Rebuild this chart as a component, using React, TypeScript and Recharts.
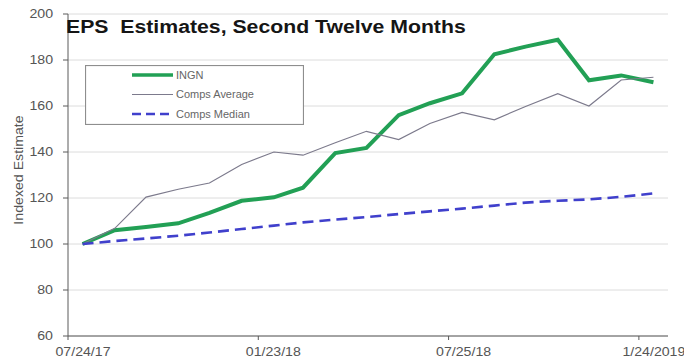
import React from 'react';
import { LineChart, Line, XAxis, YAxis, CartesianGrid, Legend } from 'recharts';

// Monthly estimate snapshots
const snapshotDates = [
  '2017-08-07', '2017-09-07', '2017-10-07', '2017-11-07', '2017-12-07',
  '2018-01-07', '2018-02-07', '2018-03-07', '2018-04-07', '2018-05-07',
  '2018-06-07', '2018-07-07', '2018-08-07', '2018-09-07', '2018-10-07',
  '2018-11-07', '2018-12-07', '2019-01-07', '2019-02-07',
];

const ingn = [
  100, 106, 107.4, 109, 113.5, 118.8, 120.3, 124.5, 139.5, 141.8,
  156, 161.2, 165.5, 182.5, 185.8, 188.8, 171.2, 173.3, 170.3,
];

const compsAverage = [
  100, 106.8, 120.4, 123.8, 126.5, 134.6, 140, 138.6, 144, 149,
  145.4, 152.4, 157.2, 154, 159.8, 165.4, 160, 171.3, 172.5,
];

const compsMedian = [
  100, 101.3, 102.4, 103.6, 105, 106.5, 108, 109.4, 110.6, 111.7,
  113, 114.2, 115.4, 116.7, 118, 118.8, 119.4, 120.5, 122,
];

const axisStartDate = '2017-07-24';
const axisEndDate = '2019-02-21';
const tickDates = ['2017-07-24', '2018-01-23', '2018-07-25', '2019-01-24'];
const tickLabels = ['07/24/17', '01/23/18', '07/25/18', '1/24/2019'];
const yTicks = [60, 80, 100, 120, 140, 160, 180, 200];

const seriesNames = ['INGN', 'Comps Average', 'Comps Median'];

const DAY = 24 * 3600 * 1000;
const dayOf = (d: string) => Math.round((Date.parse(d) - Date.parse(axisStartDate)) / DAY);

const rows = snapshotDates.map((d, i) => ({
  day: dayOf(d),
  ingn: ingn[i],
  avg: compsAverage[i],
  median: compsMedian[i],
}));

const tickDays = tickDates.map(dayOf);
const tickLabelByDay: Record<number, string> = {};
tickDays.forEach((d, i) => {
  tickLabelByDay[d] = tickLabels[i];
});

const FONT = '"Liberation Sans", Arial, sans-serif';
const GREEN = '#22a055';
const GREY = '#7c7a8c';
const BLUE = '#4040cc';
const TEXT = '#555555';
const STRETCH = 1.18;

const seriesStyles = [
  { key: 'ingn', color: GREEN, width: 4, dash: undefined as string | undefined },
  { key: 'avg', color: GREY, width: 1.2, dash: undefined as string | undefined },
  { key: 'median', color: BLUE, width: 2.6, dash: '11 6' },
];

const YTick = (props: any) => {
  const { x, y, payload } = props;
  return (
    <g transform={`translate(${x},${y}) scale(${STRETCH},1)`}>
      <text x={0} y={0} dy={4} textAnchor="end" fontSize={12} fontFamily={FONT} fill={TEXT}>
        {payload.value}
      </text>
    </g>
  );
};

const XTick = (props: any) => {
  const { x, y, payload } = props;
  return (
    <g transform={`translate(${x + 15},${y}) scale(${STRETCH},1)`}>
      <text x={0} y={0} dy={14} textAnchor="middle" fontSize={12} fontFamily={FONT} fill={TEXT}>
        {tickLabelByDay[payload.value] ?? ''}
      </text>
    </g>
  );
};

const renderLegend = () => (
  <svg width={219} height={60} style={{ display: 'block' }}>
    <rect x={0.5} y={0.5} width={218} height={59} fill="#ffffff" stroke="#8e8e8e" strokeWidth={1.2} />
    {seriesNames.map((name, i) => {
      const s = seriesStyles[i];
      const cy = 10 + i * 19.5;
      return (
        <g key={name}>
          <line
            x1={47}
            x2={88}
            y1={cy}
            y2={cy}
            stroke={s.color}
            strokeWidth={s.width === 4 ? 3.5 : s.width}
            strokeDasharray={s.dash ? '9 5' : undefined}
          />
          <g transform={`translate(91,${cy}) scale(1.1,1)`}>
            <text x={0} y={0} dy={3.5} fontSize={10} fontFamily={FONT} fill="#666666">
              {name}
            </text>
          </g>
        </g>
      );
    })}
  </svg>
);

export default function App() {
  return (
    <div style={{ position: 'absolute', left: 0, top: 0, width: 684, height: 362, background: '#fff' }}>
      <LineChart
        width={684}
        height={362}
        data={rows}
        margin={{ top: 14, right: 16, bottom: 0, left: 0 }}
      >
        <CartesianGrid horizontal vertical={false} stroke="#dcdcdc" strokeWidth={1} />
        <XAxis
          dataKey="day"
          type="number"
          domain={[0, dayOf(axisEndDate)]}
          ticks={tickDays}
          allowDataOverflow
          height={26}
          stroke="#5a5a5a"
          tickSize={4}
          tickMargin={2}
          tick={<XTick />}
          interval={0}
        />
        <YAxis
          type="number"
          domain={[60, 200]}
          ticks={yTicks}
          width={68}
          stroke="#5a5a5a"
          tickSize={5}
          tickMargin={10}
          tick={<YTick />}
          interval={0}
          label={{
            content: () => (
              <g transform={`translate(19,170) rotate(-90) scale(${STRETCH},1)`}>
                <text x={0} y={0} dy={4} textAnchor="middle" fontSize={12} fontFamily={FONT} fill={TEXT}>
                  Indexed Estimate
                </text>
              </g>
            ),
          }}
        />
        <Legend
          layout="vertical"
          align="center"
          verticalAlign="middle"
          content={renderLegend}
          wrapperStyle={{ left: 85, top: 65, width: 219, height: 60 }}
        />
        {seriesStyles.map((s, i) => (
          <Line
            key={s.key}
            name={seriesNames[i]}
            dataKey={s.key}
            type="linear"
            stroke={s.color}
            strokeWidth={s.width}
            strokeDasharray={s.dash}
            dot={false}
            activeDot={false}
            isAnimationActive={false}
            strokeLinejoin="miter"
          />
        ))}
      </LineChart>
      <div
        style={{
          position: 'absolute',
          left: 66,
          top: 16,
          fontFamily: FONT,
          fontWeight: 'bold',
          fontSize: 18,
          color: '#151515',
          whiteSpace: 'pre',
          transform: `scaleX(${STRETCH})`,
          transformOrigin: 'left top',
          lineHeight: '22px',
        }}
      >
        {'EPS  Estimates, Second Twelve Months'}
      </div>
    </div>
  );
}
